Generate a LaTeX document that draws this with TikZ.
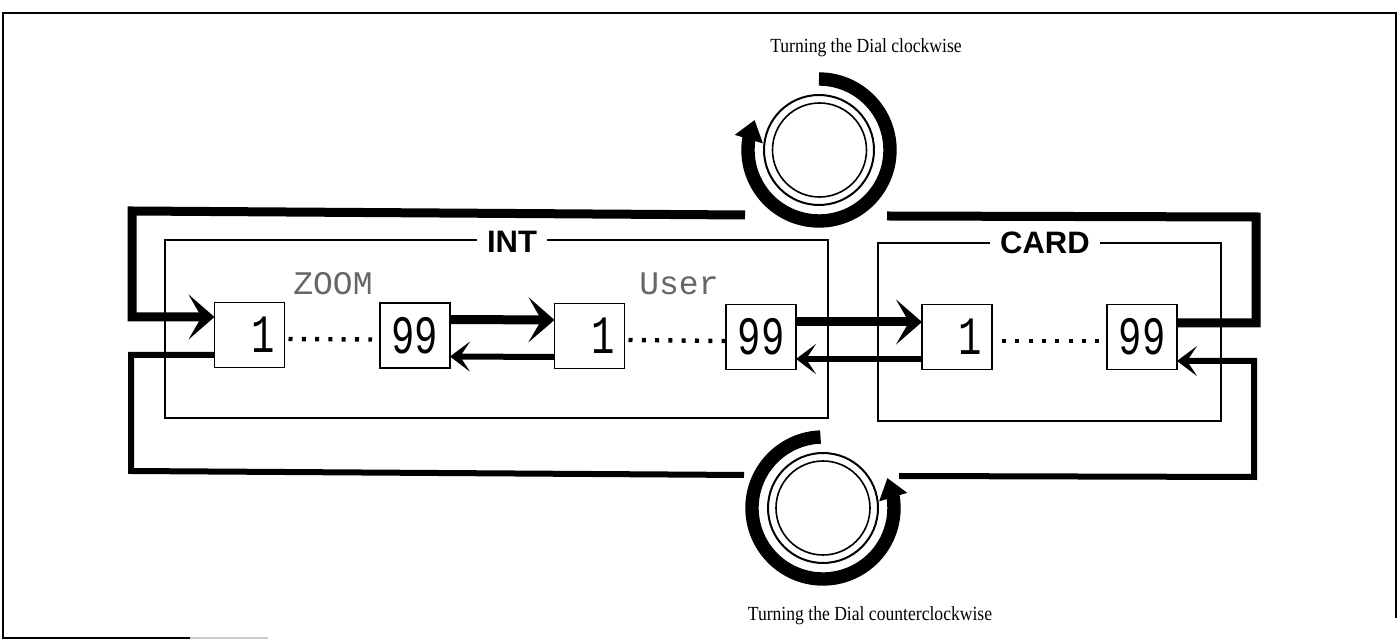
\documentclass[tikz,border=0pt]{standalone}
\usepackage{fontspec}
\setmainfont{Liberation Serif}
\newfontfamily\capfont[FakeStretch=0.88]{Liberation Serif}
\newfontfamily\labelfont{Liberation Sans}
\newfontfamily\lcdfont[FakeStretch=0.72]{Liberation Mono}
\newfontfamily\dotfont{Liberation Mono}
\usetikzlibrary{arrows.meta,bending}
\tikzset{
  membox/.style={draw,line width=.8pt,fill=white,minimum width=35pt,minimum height=32.5pt,inner sep=0pt,outer sep=0pt,font=\lcdfont\fontsize{27}{27}\selectfont},
  firstbox/.style={membox,text width=25pt,align=right},
  bank/.style={draw,line width=.8pt,inner sep=0pt,outer sep=0pt},
  banklabel/.style={fill=white,inner sep=5pt,font=\labelfont\bfseries\fontsize{15.5}{15.5}\selectfont},
  patchname/.style={inner sep=0pt,text=black!60,font=\dotfont\fontsize{16.5}{16.5}\selectfont},
  caption/.style={inner sep=0pt,anchor=base,font=\capfont\fontsize{10}{12}\selectfont},
  fwd/.style={line width=4.5pt,-{Stealth[length=13pt,width=22.5pt,inset=6.5pt]}},
  back/.style={line width=3pt,-{Stealth[length=10pt,width=15pt,inset=5pt]}},
  fwdline/.style={line width=4.5pt},
  backline/.style={line width=3pt},
  dots/.style={line width=2.2pt,dash pattern=on 2pt off 4.65pt},
  ring/.style={circle,draw,inner sep=0pt,outer sep=0pt},
  dialarrow/.style={line width=6.7pt,-{Triangle[length=10pt,width=14pt,flex']}}
}
\begin{document}
\begin{tikzpicture}[x=.5pt,y=-.5pt]
  \useasboundingbox (0,0) rectangle (1399,640);
  \draw[line width=.8pt] (190,638) -- (3,638) -- (3,13) -- (1396,13) -- (1396,618);
  \draw[line width=.8pt,black!20] (190,638) -- (268,638);

  \node[bank,minimum width=331.5pt,minimum height=89pt] (intbank) at (496.5,329) {};
  \node[bank,minimum width=171.5pt,minimum height=89pt] (cardbank) at (1049.5,332) {};
  \node[banklabel] (intlabel) at (512,242) {INT};
  \node[banklabel] (cardlabel) at (1045,243) {CARD};

  \node[firstbox] (zoomfirst) at (249.5,335) {1};
  \node[membox] (zoomlast) at (415,335.5) {99};
  \node[firstbox] (userfirst) at (589.5,336) {1};
  \node[membox] (userlast) at (761,337) {99};
  \node[firstbox] (cardfirst) at (957,337) {1};
  \node[membox] (cardlast) at (1142,337) {99};

  \node[patchname] (zoomname) at (333,284) {ZOOM};
  \node[patchname] (username) at (679,284) {User};

  \draw[dots] ([yshift=-2pt,xshift=2pt]zoomfirst.east) -- ([yshift=-2pt,xshift=-4pt]zoomlast.west);
  \draw[dots] ([yshift=-2pt,xshift=2pt]userfirst.east) -- ([yshift=-2pt]userlast.west);
  \draw[dots] ([yshift=-2pt,xshift=5pt]cardfirst.east) -- ([yshift=-2pt,xshift=-4pt]cardlast.west);

  \coordinate (topgapl) at (745,215);
  \coordinate (topgapr) at (887,216);
  \coordinate (botgapl) at (744,475);
  \coordinate (botgapr) at (899,476);

  \draw[fwd] (topgapl) -- (132,211) |- ([yshift=9pt]zoomfirst.west);
  \draw[fwd] ([yshift=8pt]zoomlast.east) -- ([yshift=8pt]userfirst.west);
  \draw[fwd] ([yshift=7.5pt]userlast.east) -- ([yshift=7.5pt]cardfirst.west);
  \draw[fwdline] ([yshift=7pt]cardlast.east) -| (1256,217) -- (topgapr);

  \draw[backline] ([yshift=-10pt]zoomfirst.west) -| (131,471) -- (botgapl);
  \draw[back] ([yshift=-10.5pt]userfirst.west) -- ([yshift=-10.5pt]zoomlast.east);
  \draw[back] ([yshift=-11pt]cardfirst.west) -- ([yshift=-11pt]userlast.east);
  \draw[back] (botgapr) -- (1254,477) |- ([yshift=-12pt]cardlast.east);

  \node[ring,line width=1pt,minimum size=55pt] (dialcw) at (819,150) {};
  \node[ring,line width=.8pt,minimum size=47pt] (dialcwin) at (819.5,150) {};
  \node[ring,line width=1pt,minimum size=55pt] (dialccw) at (823,508) {};
  \node[ring,line width=.8pt,minimum size=47pt] (dialccwin) at (823,508) {};

  \draw[dialarrow] (dialcw.center) ++(90:35.5pt) arc[start angle=90,end angle=-205,radius=35.5pt];
  \draw[dialarrow] (dialccw.center) ++(92:35.5pt) arc[start angle=92,end angle=385,radius=35.5pt];

  \node[caption] (cwtext) at (866,53) {Turning the Dial clockwise};
  \node[caption] (ccwtext) at (870,621) {Turning the Dial counterclockwise};
\end{tikzpicture}
\end{document}
